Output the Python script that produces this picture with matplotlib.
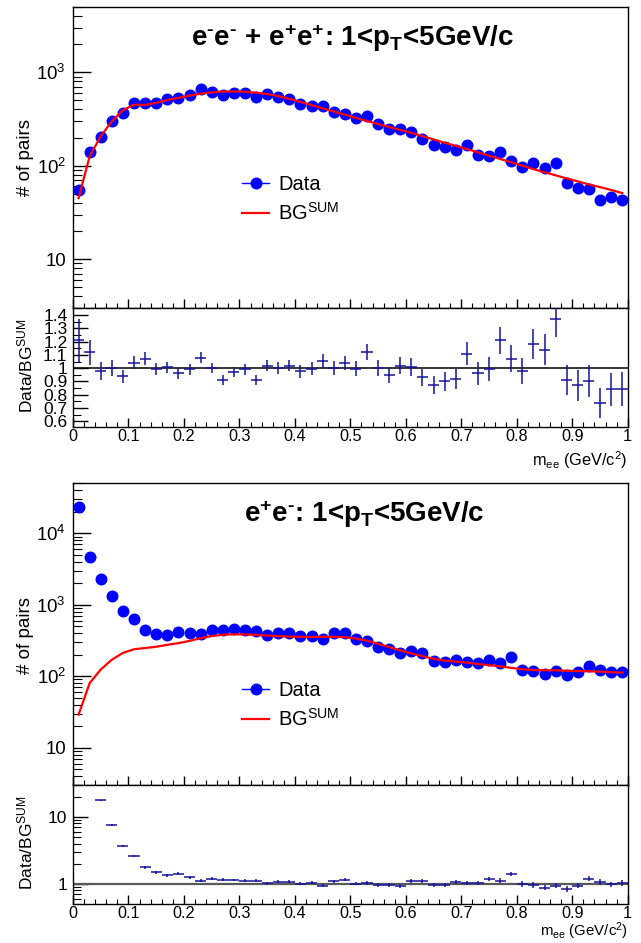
import numpy as np
import matplotlib
matplotlib.use("Agg")
import matplotlib.pyplot as plt
from matplotlib.lines import Line2D
from matplotlib.ticker import (LogLocator, MultipleLocator, FuncFormatter,
                               NullFormatter, FixedLocator)

plt.rcParams["font.family"] = ["Liberation Sans", "DejaVu Sans"]
plt.rcParams["mathtext.fontset"] = "custom"
plt.rcParams["mathtext.rm"] = "Liberation Sans"
plt.rcParams["mathtext.it"] = "Liberation Sans:italic"
plt.rcParams["mathtext.bf"] = "Liberation Sans:bold"
plt.rcParams["mathtext.default"] = "regular"

# ====== binning: 50 bins of 20 MeV ======
mass = np.round(0.01 + 0.02 * np.arange(50), 2)

# ====== like-sign pairs (e-e- + e+e+) ======
ls_data = [55, 141, 204, 298, 370, 464, 464, 472, 513, 525,
           575, 655, 619, 569, 603, 603, 547, 589, 542, 513,
           461, 436, 436, 380, 361, 321, 340, 278, 246, 250,
           227, 192, 166, 159, 148, 167, 131, 126, 139, 113,
           96, 107, 95, 106, 65, 58, 56, 43, 46, 43]
ls_bg = [45, 126, 207, 298, 393, 450, 448, 470, 505, 532,
         562, 590, 610, 622, 624, 618, 605, 585, 556, 520,
         482, 445, 412, 381, 352, 325, 301, 279, 259, 242,
         225, 207, 191, 176, 163, 151, 139, 128, 118, 109,
         100, 92, 85, 79, 73, 68, 63, 59, 55, 51]
ls_ratio = [1.21, 1.12, 0.98, 1.0, 0.94, 1.04, 1.07, 0.995, 1.005, 0.96,
            0.99, 1.08, 1.0, 0.91, 0.97, 0.99, 0.91, 1.02, 1.0, 1.02,
            0.975, 0.995, 1.055, 1.0, 1.04, 0.995, 1.12, 1.0, 0.95, 1.02,
            1.01, 0.93, 0.87, 0.90, 0.92, 1.11, 0.96, 0.995, 1.21, 1.07,
            0.98, 1.18, 1.14, 1.37, 0.91, 0.87, 0.905, 0.74, 0.84, 0.84]

# ====== unlike-sign pairs (e+e-) ======
us_data = [23650, 4710, 2265, 1320, 815, 622, 441, 388, 376, 414,
           405, 388, 437, 441, 451, 441, 432, 380, 405, 401,
           368, 368, 335, 405, 405, 327, 313, 258, 239, 208,
           224, 208, 164, 156, 168, 159, 151, 168, 154, 183,
           121, 117, 109, 117, 103, 113, 140, 124, 113, 116]
us_bg = [29, 80, 124, 170, 212, 238, 248, 258, 275, 290,
         312, 340, 364, 380, 386, 384, 378, 370, 364, 358,
         355, 354, 355, 356, 352, 335, 315, 283, 255, 230,
         208, 191, 175, 165, 160, 155, 148, 143, 137, 131,
         125, 122, 121, 121, 119, 118, 117, 116, 114, 112]
us_ratio = [np.nan, np.nan, 17.7, 7.57, 3.72, 2.6, 1.77, 1.49, 1.34, 1.42,
            1.26, 1.12, 1.19, 1.15, 1.14, 1.12, 1.11, 1.02, 1.08, 1.08,
            1.01, 1.035, 0.94, 1.1, 1.15, 1.0, 1.035, 0.965, 0.965, 0.92,
            1.11, 1.11, 0.965, 0.965, 1.06, 1.035, 1.035, 1.19, 1.12, 1.4,
            1.0, 0.965, 0.88, 0.94, 0.85, 0.94, 1.19, 1.07, 0.98, 1.035]

BLUE = "#0000ff"
RED = "#ff0000"
RATIO_COL = "#14149a"
HY = "\u2010"  # short hyphen for the charge signs
XTITLE = r"m$_{ee}$ (GeV/c$^{2}$)"


def log_label(v, pos):
    if v == 10:
        return "10"
    return r"$10^{%d}$" % round(np.log10(v))


def style_xaxis(ax, labels):
    ax.set_xlim(0, 1)
    ax.xaxis.set_major_locator(MultipleLocator(0.1))
    ax.xaxis.set_minor_locator(MultipleLocator(0.02))
    ax.tick_params(axis="x", which="major", direction="in", length=6.5, width=1,
                   top=False, labelbottom=labels, labelsize=11.7, pad=1.5)
    ax.tick_params(axis="x", which="minor", direction="in", length=3.5, width=0.8,
                   top=False)
    ax.xaxis.set_major_formatter(FuncFormatter(lambda v, p: "%g" % round(v, 1)))
    for s in ax.spines.values():
        s.set_linewidth(1.0)


def draw_main(ax, data, bg, title, tx, ymax, leg_y):
    ax.plot(mass, data, "o", color=BLUE, ms=7.6, zorder=3)
    ax.plot(mass, bg, color=RED, lw=1.6, zorder=4)
    ax.set_yscale("log")
    ax.set_ylim(3, ymax)
    style_xaxis(ax, False)
    ax.yaxis.set_major_locator(LogLocator(base=10))
    ax.yaxis.set_minor_locator(LogLocator(base=10, subs=np.arange(2, 10)))
    ax.yaxis.set_major_formatter(FuncFormatter(log_label))
    ax.yaxis.set_minor_formatter(NullFormatter())
    ax.tick_params(axis="y", which="major", direction="in", length=13, width=1,
                   right=False, labelsize=13.4, pad=5)
    ax.tick_params(axis="y", which="minor", direction="in", length=6.5, width=0.8,
                   right=False)
    ax.text(tx, 0.872, title, transform=ax.transAxes, ha="center", va="baseline",
            fontsize=20, fontweight="bold")
    handles = [Line2D([], [], color=BLUE, marker="o", ms=7.6, lw=1),
               Line2D([], [], color=RED, lw=1.6)]
    ax.legend(handles, ["Data", "BG$^{SUM}$"], loc="upper left",
              bbox_to_anchor=(0.305, leg_y), frameon=False, fontsize=14.5,
              handlelength=1.35, handletextpad=0.45, labelspacing=0.42,
              borderpad=0, borderaxespad=0)


def draw_ratio(ax, data, ratio, log):
    data = np.asarray(data, float)
    ratio = np.asarray(ratio, float)
    ax.errorbar(mass, ratio, xerr=0.01, yerr=ratio / np.sqrt(data), fmt="none",
                ecolor=RATIO_COL, elinewidth=1.1, capsize=0, zorder=3)
    style_xaxis(ax, True)
    if log:
        ax.axhline(1, color="0.35", lw=1.6, zorder=2)
        ax.set_yscale("log")
        ax.set_ylim(0.5, 30)
        ax.yaxis.set_major_locator(FixedLocator([1, 10]))
        ax.yaxis.set_minor_locator(LogLocator(base=10, subs=np.arange(2, 10)))
        ax.yaxis.set_major_formatter(FuncFormatter(lambda v, p: "%g" % v))
        ax.yaxis.set_minor_formatter(NullFormatter())
    else:
        ax.axhline(1, color="black", lw=1.1, zorder=2)
        ax.set_ylim(0.555, 1.453)
        ax.yaxis.set_major_locator(MultipleLocator(0.1))
        ax.yaxis.set_minor_locator(MultipleLocator(0.05))
        ax.yaxis.set_major_formatter(FuncFormatter(lambda v, p: "%g" % round(v, 1)))
    ax.tick_params(axis="y", which="major", direction="in", length=11, width=1,
                   right=False, labelsize=12.5, pad=4)
    ax.tick_params(axis="y", which="minor", direction="in", length=6, width=0.8,
                   right=False)


fig = plt.figure(figsize=(6.41, 9.43), dpi=100)
ax1 = fig.add_axes([0.1139, 0.6734, 0.8654, 0.3192])
ax2 = fig.add_axes([0.1139, 0.5469, 0.8654, 0.1265])
ax3 = fig.add_axes([0.1139, 0.1675, 0.8654, 0.3200])
ax4 = fig.add_axes([0.1139, 0.0414, 0.8654, 0.1261])

draw_main(ax1, ls_data, ls_bg,
          r"e$^{\mathbf{%s}}$e$^{\mathbf{%s}}$ + e$^{\mathbf{+}}$e$^{\mathbf{+}}$: "
          r"1<p$_{\mathbf{T}}$<5GeV/c" % (HY, HY), 0.504, 5000, 0.443)
draw_ratio(ax2, ls_data, ls_ratio, log=False)

draw_main(ax3, us_data, us_bg,
          r"e$^{\mathbf{+}}$e$^{\mathbf{%s}}$: 1<p$_{\mathbf{T}}$<5GeV/c" % HY,
          0.526, 5e4, 0.345)
draw_ratio(ax4, us_data, us_ratio, log=True)

# axis titles
x_right = 627.7 / 641
fig.text(x_right, 1 - 460 / 943, XTITLE, ha="right", va="center", fontsize=11.7)
fig.text(x_right, 1 / 943, XTITLE, ha="right", va="bottom", fontsize=10.8)
fig.text(25 / 641, 1 - 158 / 943, "# of pairs", rotation=90, ha="center",
         va="center", fontsize=13.5)
fig.text(25 / 641, 1 - 635 / 943, "# of pairs", rotation=90, ha="center",
         va="center", fontsize=13.5)
fig.text(25 / 641, 1 - 366 / 943, "Data/BG$^{SUM}$", rotation=90, ha="center",
         va="center", fontsize=12.5)
fig.text(25 / 641, 1 - 843 / 943, "Data/BG$^{SUM}$", rotation=90, ha="center",
         va="center", fontsize=12.5)

fig.savefig("out.png", dpi=100)
